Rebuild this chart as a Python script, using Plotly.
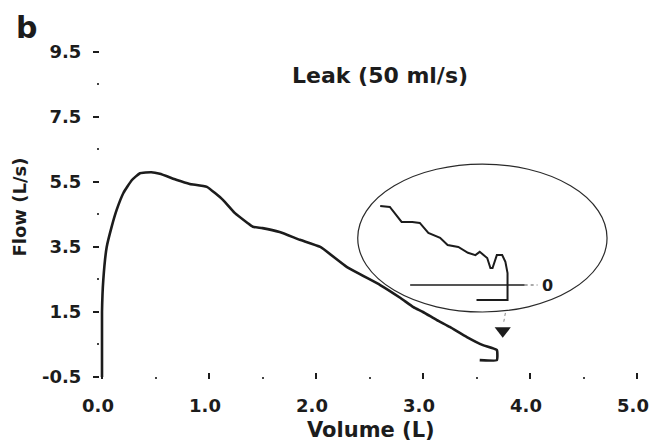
import plotly.graph_objects as go

# Main flow-volume loop (expiratory limb) with a 50 ml/s leak
volume = [0.0, 0.0, 0.012, 0.044, 0.09, 0.137, 0.2, 0.28, 0.355, 0.46, 0.54, 0.70,
          0.82, 0.98, 1.13, 1.24, 1.36, 1.41, 1.50, 1.66, 1.85, 2.04, 2.29, 2.60,
          2.79, 2.91, 3.00, 3.13, 3.25, 3.41, 3.56, 3.69, 3.69, 3.53]
flow = [-0.5, 1.5, 2.48, 3.5, 4.12, 4.64, 5.16, 5.56, 5.77, 5.80, 5.75, 5.56,
        5.44, 5.35, 4.95, 4.55, 4.24, 4.12, 4.08, 3.96, 3.72, 3.5, 2.88, 2.33,
        1.93, 1.65, 1.5, 1.25, 1.04, 0.73, 0.48, 0.33, 0.02, 0.02]

# Magnified end-of-expiration trace shown inside the ellipse
inset_volume = [2.60, 2.69, 2.80, 2.90, 2.97, 3.05, 3.16, 3.23, 3.33, 3.42, 3.49,
                3.53, 3.60, 3.63, 3.65, 3.69, 3.74, 3.77, 3.79, 3.79, 3.50]
inset_flow = [4.76, 4.73, 4.27, 4.27, 4.24, 3.93, 3.78, 3.56, 3.50, 3.32, 3.25,
              3.35, 3.16, 2.85, 2.85, 3.25, 3.25, 3.04, 2.70, 1.87, 1.87]

# Zero reference line of the magnified trace
zero_volume = [2.88, 3.95]
zero_flow = [2.33, 2.33]
zero_dot_volume = [3.95, 4.07]
zero_label_volume = 4.16

# Ellipse bounds (volume, flow)
ellipse_volume = [2.39, 4.72]
ellipse_flow = [1.5, 6.05]

# Arrow pointing to the end of the curve
arrow_volume = [3.745]
arrow_flow = [0.92]
pointer_volume = [3.77, 3.755]
pointer_flow = [1.47, 1.2]

y_ticks = [-0.5, 1.5, 3.5, 5.5, 7.5, 9.5]
y_tick_labels = ["-0.5", "1.5", "3.5", "5.5", "7.5", "9.5"]
x_ticks = [0, 1, 2, 3, 4, 5]
x_tick_labels = ["0.0", "1.0", "2.0", "3.0", "4.0", "5.0"]

ink = "#1c1c1c"
font_family = "DejaVu Sans"

fig = go.Figure()

fig.add_shape(type="circle", xref="x", yref="y",
              x0=ellipse_volume[0], x1=ellipse_volume[1],
              y0=ellipse_flow[0], y1=ellipse_flow[1],
              line=dict(color="#2a2a2a", width=1.2))

fig.add_trace(go.Scatter(x=volume, y=flow, mode="lines",
                         line=dict(color=ink, width=2.6, shape="spline", smoothing=0.4),
                         hoverinfo="skip"))
fig.add_trace(go.Scatter(x=inset_volume, y=inset_flow, mode="lines",
                         line=dict(color=ink, width=2.0),
                         hoverinfo="skip"))
fig.add_trace(go.Scatter(x=zero_volume, y=zero_flow, mode="lines",
                         line=dict(color=ink, width=1.5), hoverinfo="skip"))
fig.add_trace(go.Scatter(x=zero_dot_volume, y=zero_flow, mode="lines",
                         line=dict(color="#555555", width=1.2, dash="dot"),
                         hoverinfo="skip"))
fig.add_trace(go.Scatter(x=pointer_volume, y=pointer_flow, mode="lines",
                         line=dict(color="#888888", width=1, dash="dot"),
                         hoverinfo="skip"))
fig.add_trace(go.Scatter(x=arrow_volume, y=arrow_flow, mode="markers",
                         marker=dict(symbol="triangle-down", size=14, color=ink),
                         hoverinfo="skip"))

bold = dict(family=font_family, color=ink, weight="bold")

fig.update_layout(
    width=650, height=443,
    margin=dict(l=100, r=8, t=36, b=64, autoexpand=False),
    paper_bgcolor="white", plot_bgcolor="white",
    showlegend=False,
    xaxis=dict(range=[-0.0187, 5.0467], showgrid=False, zeroline=False, showline=False,
               automargin=False,
               tickmode="array", tickvals=x_ticks, ticktext=x_tick_labels,
               ticks="inside", ticklen=6, tickwidth=1.5, tickcolor=ink,
               ticklabelstandoff=14, ticklabelshift=-4,
               minor=dict(dtick=0.5, tick0=0, ticks="inside", ticklen=2, tickwidth=2,
                          tickcolor="#444444"),
               tickfont=dict(size=18, **bold)),
    yaxis=dict(range=[-0.5615, 9.99], showgrid=False, zeroline=False, showline=False,
               automargin=False,
               tickmode="array", tickvals=y_ticks, ticktext=y_tick_labels,
               ticks="outside", ticklen=6, tickwidth=1.5, tickcolor=ink,
               ticklabelstandoff=8,
               minor=dict(dtick=1, tick0=-0.5, ticks="outside", ticklen=2, tickwidth=2,
                          tickcolor="#444444"),
               tickfont=dict(size=18, **bold)),
    annotations=[
        dict(text="b", xref="paper", yref="paper", x=-0.1365, y=1.025,
             xanchor="center", yanchor="middle", showarrow=False,
             font=dict(size=30, **bold)),
        dict(text="Leak (50 ml/s)", xref="paper", yref="paper", x=0.5166, y=0.886,
             xanchor="center", yanchor="middle", showarrow=False,
             font=dict(size=22, **bold)),
        dict(text="Volume (L)", xref="paper", yref="paper", x=0.5, y=-0.1487,
             xanchor="center", yanchor="middle", showarrow=False,
             font=dict(size=21, **bold)),
        dict(text="Flow (L/s)", xref="paper", yref="paper", x=-0.1494, y=0.5,
             xanchor="center", yanchor="middle", textangle=-90, showarrow=False,
             font=dict(size=18, **bold)),
        dict(text="0", xref="x", yref="y", x=zero_label_volume, y=zero_flow[0],
             xanchor="center", yanchor="middle", showarrow=False,
             font=dict(size=16, **bold)),
    ],
)

fig.write_html("out.html")
